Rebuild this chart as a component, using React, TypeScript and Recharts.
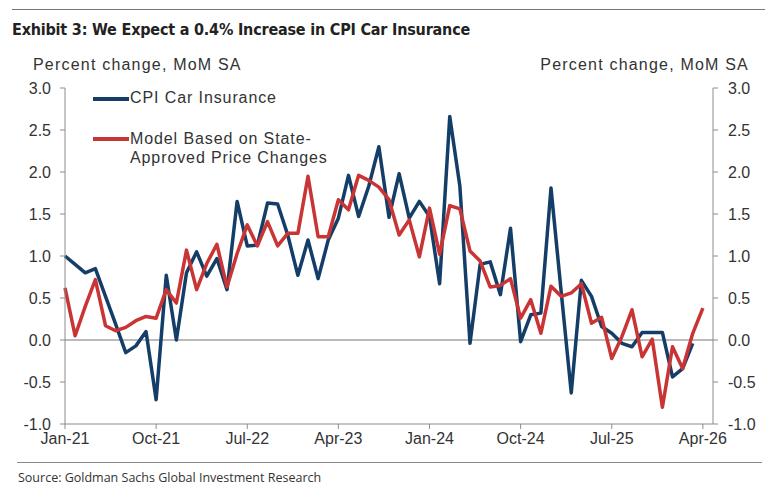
import { LineChart, Line, XAxis, YAxis, ReferenceLine } from "recharts";

// monthly, Jan-21 .. Apr-26 (index 0..63), plus one empty slot so the axis runs to May-26
const startYear = 2021;
const monthNames = ["Jan", "Feb", "Mar", "Apr", "May", "Jun", "Jul", "Aug", "Sep", "Oct", "Nov", "Dec"];

const cpiCarInsurance: (number | null)[] = [
  1.0, 0.9, 0.8, 0.85, 0.52, 0.19, -0.15, -0.07, 0.1, -0.71, 0.77, 0.0,
  0.8, 1.05, 0.76, 0.97, 0.6, 1.65, 1.12, 1.13, 1.63, 1.62, 1.25, 0.77,
  1.19, 0.73, 1.19, 1.45, 1.96, 1.47, 1.83, 2.3, 1.46, 1.98, 1.45, 1.65,
  1.47, 0.67, 2.66, 1.83, -0.04, 0.9, 0.93, 0.54, 1.33, -0.02, 0.3, 0.32,
  1.81, 0.58, -0.63, 0.71, 0.52, 0.16, 0.08, -0.04, -0.08, 0.09, 0.09, 0.09,
  -0.44, -0.34, -0.04, null,
];

const modelStateApproved: (number | null)[] = [
  0.62, 0.05, 0.4, 0.72, 0.17, 0.11, 0.15, 0.23, 0.28, 0.26, 0.6, 0.44,
  1.07, 0.6, 0.91, 1.14, 0.63, 1.03, 1.37, 1.12, 1.41, 1.12, 1.27, 1.27,
  1.95, 1.23, 1.23, 1.67, 1.55, 1.96, 1.9, 1.82, 1.67, 1.25, 1.43, 0.99,
  1.57, 1.02, 1.6, 1.56, 1.06, 0.94, 0.63, 0.65, 0.73, 0.26, 0.48, 0.08,
  0.64, 0.52, 0.56, 0.67, 0.2, 0.27, -0.22, 0.04, 0.36, -0.2, 0.01, -0.8,
  -0.08, -0.34, 0.08, 0.38,
];

const xTicks = [0, 9, 18, 27, 36, 45, 54, 63];
const yTicks = [-1, -0.5, 0, 0.5, 1, 1.5, 2, 2.5, 3];

const BLUE = "#143e68";
const RED = "#c93434";
const AXIS = "#8c8c8c";
const TEXT = "#333";

function monthLabel(i: number): string {
  const y = startYear + Math.floor(i / 12);
  return `${monthNames[i % 12]}-${String(y).slice(2)}`;
}

const data = modelStateApproved.map((red, i) => ({
  idx: i,
  cpi: cpiCarInsurance[i],
  model: red,
}));

const tickFont = { fontFamily: "Liberation Sans, Arial, sans-serif", fontSize: 16, fill: TEXT };

const labelStyle = {
  fontFamily: "Liberation Sans, Arial, sans-serif",
  fontSize: 16,
  color: TEXT,
  whiteSpace: "nowrap" as const,
};

export default function App() {
  return (
    <div
      style={{
        position: "absolute",
        left: 0,
        top: 0,
        width: 780,
        height: 493,
        background: "#fff",
        overflow: "hidden",
      }}
    >
      <div style={{ position: "absolute", left: 12, top: 9, width: 753, borderTop: "1.5px solid #777" }} />
      <div
        style={{
          position: "absolute",
          left: 12,
          top: 20,
          fontFamily: "'Liberation Sans Narrow', 'DejaVu Sans Condensed', sans-serif",
          fontWeight: 700,
          fontSize: 16,
          letterSpacing: -0.2,
          color: "#222",
          whiteSpace: "nowrap",
        }}
      >
        Exhibit 3: We Expect a 0.4% Increase in CPI Car Insurance
      </div>

      <div style={{ position: "absolute", left: 33, top: 56, ...labelStyle, letterSpacing: 1.2 }}>
        Percent change, MoM SA
      </div>
      <div style={{ position: "absolute", right: 31, top: 56, ...labelStyle, letterSpacing: 1.2 }}>
        Percent change, MoM SA
      </div>

      <LineChart
        width={780}
        height={493}
        data={data}
        margin={{ top: 88, right: 27, bottom: 39, left: 25 }}
        style={{ position: "absolute", left: 0, top: 0 }}
      >
        <XAxis
          dataKey="idx"
          type="number"
          domain={[0, 64]}
          ticks={xTicks}
          tickFormatter={monthLabel}
          interval={0}
          height={30}
          stroke={AXIS}
          tickSize={5}
          tick={tickFont}
          tickMargin={4}
        />
        <YAxis
          yAxisId="left"
          domain={[-1, 3]}
          ticks={yTicks}
          tickFormatter={(v: number) => v.toFixed(1)}
          width={40}
          stroke={AXIS}
          tickSize={5}
          tickMargin={9}
          tick={tickFont}
          allowDataOverflow
        />
        <YAxis
          yAxisId="right"
          orientation="right"
          domain={[-1, 3]}
          ticks={yTicks}
          tickFormatter={(v: number) => v.toFixed(1)}
          width={40}
          stroke={AXIS}
          tickSize={5}
          tickMargin={10}
          tick={tickFont}
          allowDataOverflow
        />
        <ReferenceLine yAxisId="left" y={0} stroke="#777" strokeWidth={1} />
        <Line
          yAxisId="left"
          dataKey="cpi"
          stroke={BLUE}
          strokeWidth={3.5}
          dot={false}
          type="linear"
          strokeLinejoin="round"
          isAnimationActive={false}
        />
        <Line
          yAxisId="left"
          dataKey="model"
          stroke={RED}
          strokeWidth={3.5}
          dot={false}
          type="linear"
          strokeLinejoin="round"
          isAnimationActive={false}
        />
      </LineChart>

      {/* legend */}
      <div style={{ position: "absolute", left: 93, top: 97, width: 36, height: 4, background: BLUE }} />
      <div style={{ position: "absolute", left: 130, top: 89, ...labelStyle, letterSpacing: 0.9 }}>
        CPI Car Insurance
      </div>
      <div style={{ position: "absolute", left: 93, top: 137, width: 36, height: 4, background: RED }} />
      <div
        style={{ position: "absolute", left: 130, top: 129, ...labelStyle, letterSpacing: 0.9, lineHeight: "19px" }}
      >
        Model Based on State-
        <br />
        Approved Price Changes
      </div>

      <div style={{ position: "absolute", left: 17, top: 462, width: 745, borderTop: "1.5px solid #888" }} />
      <div
        style={{
          position: "absolute",
          left: 18,
          top: 469,
          fontFamily: "'Open Sans', sans-serif",
          fontSize: 12.5,
          color: TEXT,
          whiteSpace: "nowrap",
        }}
      >
        Source: Goldman Sachs Global Investment Research
      </div>
    </div>
  );
}
